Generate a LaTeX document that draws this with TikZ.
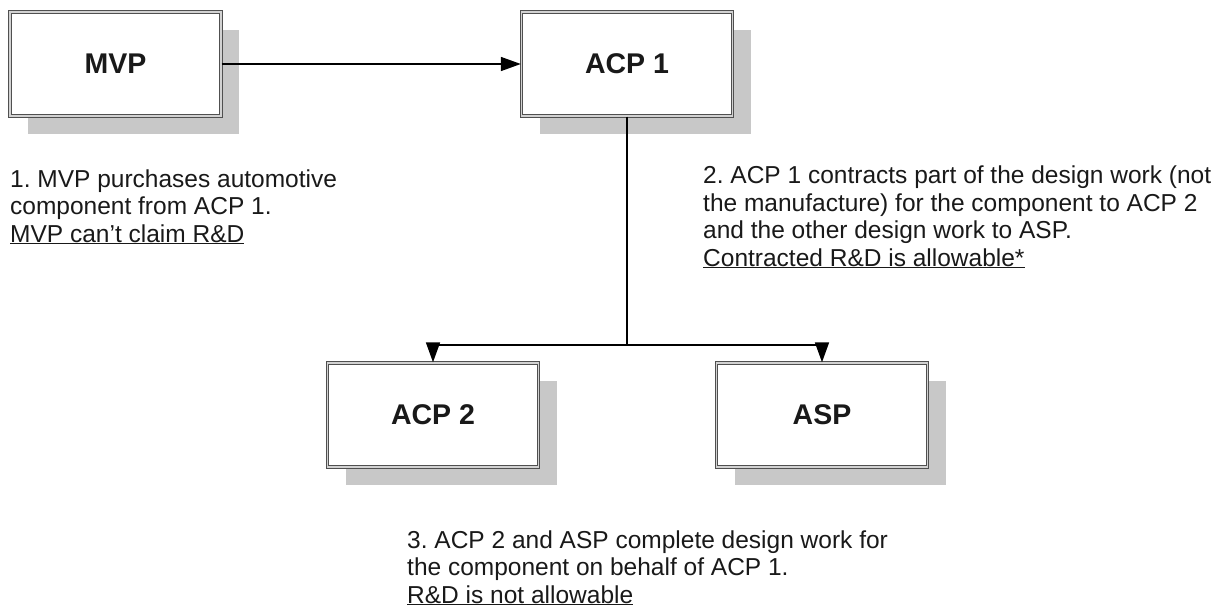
\documentclass[tikz,border=0pt]{standalone}
\usepackage{fontspec}
\setmainfont{Liberation Sans}
\frenchspacing
\usetikzlibrary{arrows.meta,shadows}
\definecolor{shadowgray}{RGB}{200,200,200}
\definecolor{edgegray}{RGB}{80,80,80}
\definecolor{gapgray}{RGB}{210,210,210}
\definecolor{inkc}{RGB}{25,25,25}
\tikzset{
  entity/.style={draw=edgegray, double=gapgray, double distance=1.1pt, line width=1.4pt,
    fill=white, minimum width=211pt, minimum height=104pt, inner sep=0pt,
    font=\fontsize{28.5}{32}\selectfont\bfseries, text=inkc,
    drop shadow={shadow xshift=18pt, shadow yshift=-18pt, fill=shadowgray, opacity=1, draw=none}},
  note/.style={anchor=base west, align=left, inner sep=0pt, text=inkc,
    font=\fontsize{24.5}{27.5}\selectfont},
  link/.style={draw=black, line width=1.6pt},
  flow/.style={link, -{Triangle[length=20pt,width=14pt]}}
}
\begin{document}
\begin{tikzpicture}[x=1pt,y=-1pt]
\useasboundingbox (0,0) rectangle (1228,608);
\node[entity] (MVP) at (115.5,64) {MVP};
\node[entity] (ACP1) at (627,64) {ACP 1};
\node[entity] (ACP2) at (433,415) {ACP 2};
\node[entity] (ASP) at (822,415) {ASP};
\coordinate (j) at (627,345);
\draw[flow] (MVP) -- (ACP1);
\draw[link] (ACP1.south) -- (j);
\draw[flow] (j) -| (ACP2.north);
\draw[flow] (j) -| (ASP.north);
\node[note] (t1) at (10,242) {1. MVP purchases automotive\\component from ACP 1.\\\underline{MVP can’t claim R\&D}};
\node[note] (t2) at (703,266) {2. ACP 1 contracts part of the design work (not\\the manufacture) for the component to ACP 2\\and the other design work to ASP.\\\underline{Contracted R\&D is allowable*}};
\node[note] (t3) at (407,603) {3. ACP 2 and ASP complete design work for\\the component on behalf of ACP 1.\\\underline{R\&D is not allowable}};
\end{tikzpicture}
\end{document}
